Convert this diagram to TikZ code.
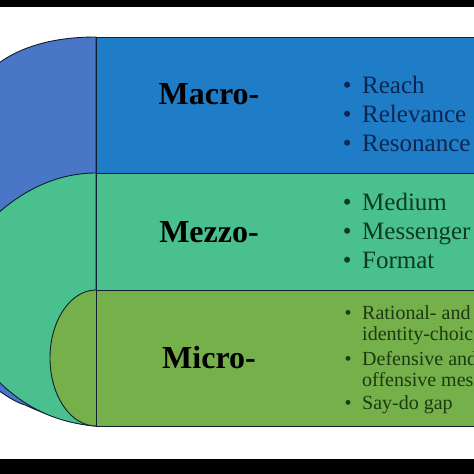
\documentclass[tikz,border=0pt]{standalone}
\usepackage{fontspec}
\setmainfont{Liberation Serif}
\usepackage{xcolor}
\usepackage{tikz}
\usetikzlibrary{positioning}
\definecolor{edge}{HTML}{0F1E30}
\definecolor{macL}{HTML}{4A76C8}
\definecolor{macR}{HTML}{1F7DC8}
\definecolor{mezz}{HTML}{4AC08F}
\definecolor{micr}{HTML}{76B04A}
\definecolor{macT}{HTML}{0C2650}
\definecolor{mezT}{HTML}{0D3A22}
\definecolor{micT}{HTML}{1C3A10}
\newcommand{\itm}{\llap{\textbullet\hspace{10.5pt}}}
\tikzset{
  band/.style={draw=edge, line width=0.9pt},
  lvl/.style={anchor=base, inner sep=0pt, font=\fontsize{32}{36}\selectfont\bfseries, text=black},
  big/.style={anchor=base west, inner sep=0pt, font=\fontsize{25}{29}\selectfont},
  small/.style={anchor=base west, inner sep=0pt, font=\fontsize{20}{21}\selectfont},
}

\begin{document}
\begin{tikzpicture}[x=1pt, y=-1pt]
  \useasboundingbox (0,0) rectangle (474,474);
  \clip (0,0) rectangle (474,474);
  \fill[white] (0,0) rectangle (474,474);
  \fill[black] (0,0) rectangle (474,7);
  \fill[black] (0,459) rectangle (474,474);
  % left rounded ends
  \filldraw[band, fill=macL] (96,37) .. controls (55,37) and (20,46) .. (-5,66)
    -- (-5,388) .. controls (5,395) and (15,402) .. (25,405)
    .. controls (45,414) and (70,424) .. (96,426) -- cycle;
  \filldraw[band, fill=mezz] (96,173) .. controls (60,173) and (25,188) .. (-5,216)
    -- (-5,378) .. controls (15,398) and (45,422) .. (96,426) -- cycle;
  \filldraw[band, fill=micr] (96,358) ellipse [x radius=46pt, y radius=68pt];
  % bands
  \filldraw[band, fill=macR] (96,37) rectangle (480,173);
  \filldraw[band, fill=mezz] (96,173) rectangle (480,290);
  \filldraw[band, fill=micr] (96,290) rectangle (480,426);
  % level names
  \node[lvl] (macro) at (209,104) {Macro-};
  \node[lvl] (mezzo) at (209,242) {Mezzo-};
  \node[lvl] (micro) at (209,368) {Micro-};
  % macro items
  \node[big, text=macT] (reach) at (362,93) {\itm Reach};
  \node[big, text=macT] (relev) at (362,122) {\itm Relevance};
  \node[big, text=macT] (reson) at (362,151) {\itm Resonance};
  % mezzo items
  \node[big, text=mezT] (medium) at (362,210) {\itm Medium};
  \node[big, text=mezT] (messgr) at (362,239) {\itm Messenger};
  \node[big, text=mezT] (format) at (362,268) {\itm Format};
  % micro items
  \node[small, text=micT] (ratio) at (362,319) {\itm Rational- and};
  \node[small, text=micT] (ident) at (362,340) {identity-choic};
  \node[small, text=micT] (defen) at (362,365) {\itm Defensive and};
  \node[small, text=micT] (offen) at (362,386) {offensive mes};
  \node[small, text=micT] (saydo) at (362,409) {\itm Say-do gap};
\end{tikzpicture}
\end{document}
